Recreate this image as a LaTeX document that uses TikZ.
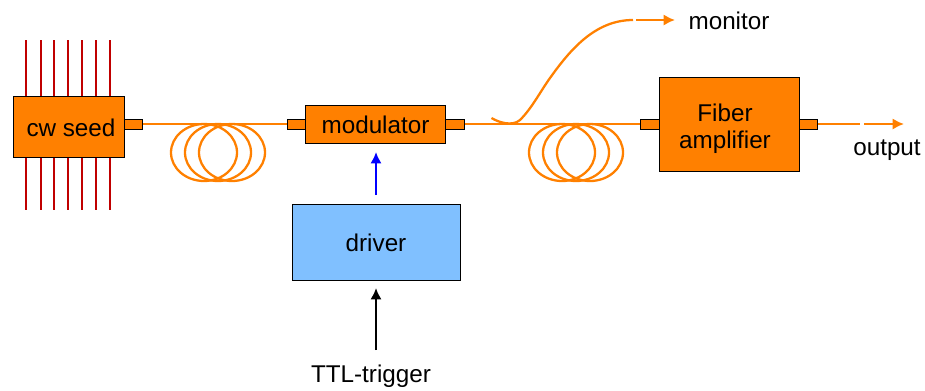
\documentclass[tikz,border=0pt]{standalone}
\usepackage{fontspec}
\setmainfont{Liberation Sans}
\usetikzlibrary{arrows.meta}
\tikzset{
  box/.style={draw=black,line width=0.55pt,fill=fiberorange,inner sep=0pt,font=\fontsize{13.8}{15.4}\selectfont},
  port/.style={draw=black,line width=0.55pt,fill=fiberorange,inner sep=0pt,minimum width=0.37cm,minimum height=0.2cm},
  fiber/.style={draw=fiberorange,line width=1.6pt},
  thinfiber/.style={draw=fiberorange,line width=1.3pt},
  pump/.style={draw=pumpred,line width=1.6pt},
  tipo/.style={-{Latex[length=6.5pt,width=6.5pt]}},
  label/.style={inner sep=0pt,font=\fontsize{13.8}{15.4}\selectfont}
}
\definecolor{fiberorange}{RGB}{255,128,0}
\definecolor{pumpred}{RGB}{192,0,0}
\definecolor{driverblue}{RGB}{128,192,255}
\begin{document}
\begin{tikzpicture}[x=0.02cm,y=-0.02cm]
\useasboundingbox (0,0) rectangle (925,390);
% the pump lines behind the seed
\foreach \x in {26,41,54,68,82,96,110}
  \draw[pump] (\x,40) -- (\x,210);
% the fiber coils
\foreach \x in {204,218,232,562,576,590}
  \draw[thinfiber] (\x,152.5) ellipse (33 and 28.5);
% the boxes
\node[box,minimum width=2.22cm,minimum height=1.22cm] (seed) at (68.5,126.5) {\hspace{0.1cm}\rule{0pt}{11pt}cw seed};
\node[box,minimum width=2.79cm,minimum height=0.76cm] (modulator) at (375.5,124) {\rule{0pt}{11pt}modulator\hspace{0.05cm}};
\node[box,minimum width=2.8cm,minimum height=1.88cm,align=center] (amplifier) at (729,124) {\rule{0pt}{15.4pt}Fiber\hspace*{0.16cm}\\amplifier\hspace*{0.16cm}};
\node[box,fill=driverblue,minimum width=3.36cm,minimum height=1.52cm] (driver) at (376,242) {\rule{0pt}{11pt}driver};
% the ports
\node[port] (seedout) at (133.5,124) {};
\node[port] (modin) at (296.5,124) {};
\node[port] (modout) at (455,124) {};
\node[port] (ampin) at (650,124) {};
\node[port] (ampout) at (808.5,124) {};
% the labels
\node[label] (monitor) at (729,21) {monitor};
\node[label] (output) at (887,150) {output};
\node[label] (trigger) at (371,376) {TTL-trigger};
% the free ends
\coordinate (tapstart) at (491.5,118);
\coordinate (tapend) at (633,20);
\coordinate (tapdash) at (636,20);
\coordinate (taptip) at (675,20);
\coordinate (outend) at (860,124);
\coordinate (outdash) at (864,124);
\coordinate (outtip) at (904,124);
\coordinate (triggertip) at (376,288);
\coordinate (triggerstart) at (376,350);
\coordinate (drivetip) at (376,152);
\coordinate (drivestart) at (376,195);
% the connectors
\draw[fiber] (seedout.east) -- (modin.west);
\draw[fiber] (modout.east) -- (ampin.west);
\draw[fiber] (ampout.east) -- (outend);
\draw[fiber,tipo] (outdash) -- (outtip);
\draw[thinfiber] (tapstart) .. controls (498,122) and (512,127) .. (520,120)
  .. controls (532,108) and (540,92) .. (550,78)
  .. controls (570,50) and (595,20) .. (tapend);
\draw[thinfiber,tipo] (tapdash) -- (taptip);
\draw[draw=blue,line width=1.5pt,tipo] (drivestart) -- (drivetip);
\draw[draw=black,line width=1.4pt,tipo] (triggerstart) -- (triggertip);
\end{tikzpicture}
\end{document}
